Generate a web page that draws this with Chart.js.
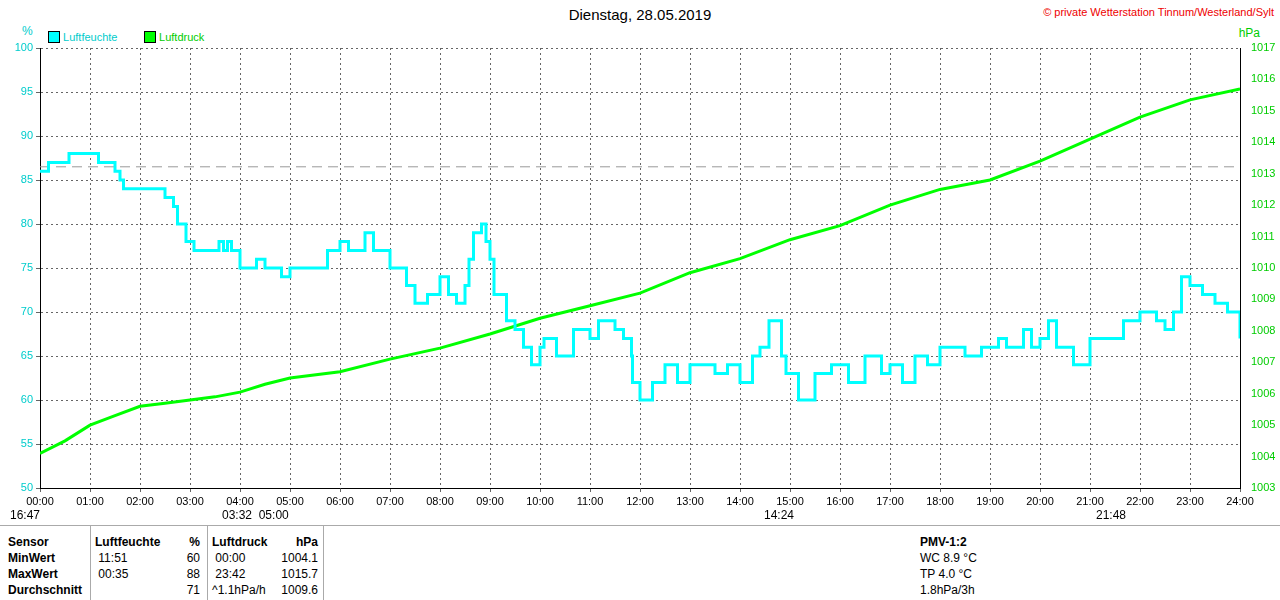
<!DOCTYPE html>
<html><head><meta charset="utf-8">
<script src="https://cdn.jsdelivr.net/npm/chart.js@4"></script>
<style>
body{margin:0;background:#fff;font-family:"Liberation Sans",Arial,sans-serif;font-size:12px;width:1280px;height:600px;overflow:hidden;position:relative}
.a{position:absolute;white-space:nowrap}
b{font-weight:bold}
</style></head><body>
<div class="a" style="left:0;top:0;width:1280px;text-align:center;top:6px;font-size:15px">Dienstag, 28.05.2019</div>
<div class="a" style="right:6px;top:6px;color:#e00;font-size:11px">© private Wetterstation Tinnum/Westerland/Sylt</div>
<div class="a" style="left:22px;top:24px;color:#0cc">%</div>
<div class="a" style="right:20px;top:26px;color:#0c0">hPa</div>
<div class="a" style="left:48px;top:31px;color:#0cc;font-size:11px"><span style="display:inline-block;width:10px;height:10px;background:#0ff;border:1px solid #000;vertical-align:-2px"></span> Luftfeuchte</div>
<div class="a" style="left:144px;top:31px;color:#0c0;font-size:11px"><span style="display:inline-block;width:10px;height:10px;background:#0f0;border:1px solid #000;vertical-align:-2px"></span> Luftdruck</div>
<canvas id="c" style="position:absolute;left:0;top:0"></canvas>
<div class="a" style="left:10px;top:508px">16:47</div>
<div class="a" style="left:222px;top:508px">03:32&nbsp; 05:00</div>
<div class="a" style="left:764px;top:508px">14:24</div>
<div class="a" style="left:1096px;top:508px">21:48</div>
<div class="a" style="left:0;top:525px;width:1280px;border-top:1px solid #aaa"></div>
<div class="a" style="left:90px;top:526px;height:74px;border-left:1px solid #aaa"></div>
<div class="a" style="left:207px;top:526px;height:74px;border-left:1px solid #aaa"></div>
<div class="a" style="left:323px;top:526px;height:74px;border-left:1px solid #aaa"></div>
<div class="a" style="left:8px;top:534px;line-height:16px"><b>Sensor</b><br><b>MinWert</b><br><b>MaxWert</b><br><b>Durchschnitt</b></div>
<div class="a" style="left:95px;top:534px;line-height:16px"><b>Luftfeuchte</b><br>&nbsp;11:51<br>&nbsp;00:35<br></div>
<div class="a" style="left:160px;top:534px;width:40px;text-align:right;line-height:16px"><b>%</b><br>60<br>88<br>71</div>
<div class="a" style="left:212px;top:534px;line-height:16px"><b>Luftdruck</b><br>&nbsp;00:00<br>&nbsp;23:42<br>^1.1hPa/h</div>
<div class="a" style="left:270px;top:534px;width:48px;text-align:right;line-height:16px"><b>hPa</b><br>1004.1<br>1015.7<br>1009.6</div>
<div class="a" style="left:920px;top:534px;line-height:16px"><b>PMV-1:2</b><br>WC 8.9 °C<br>TP 4.0 °C<br>1.8hPa/3h</div>
<script>
const humT = [0,0.17,0.58,1.08,1.17,1.5,1.6,1.67,2.42,2.5,2.67,2.75,2.92,3.08,3.5,3.58,3.67,3.75,3.83,4,4.33,4.5,4.83,5,5.5,5.75,6,6.17,6.5,6.67,7,7.33,7.5,7.75,8,8.17,8.33,8.5,8.58,8.67,8.83,8.92,9,9.08,9.33,9.5,9.67,9.83,10,10.08,10.33,10.67,11,11.17,11.5,11.67,11.83,11.85,12,12.25,12.5,12.75,13,13.5,13.75,14,14.25,14.4,14.58,14.83,14.92,15.17,15.5,15.83,16.17,16.5,16.83,17,17.25,17.5,17.75,18,18.5,18.83,19.17,19.33,19.67,19.83,20,20.17,20.33,20.67,21,21.17,21.67,22,22.33,22.5,22.67,22.83,23,23.25,23.5,23.75,24];
const humV = [86,87,88,88,87,86,85,84,84,83,82,80,78,77,77,78,77,78,77,75,76,75,74,75,75,77,78,77,79,77,75,73,71,72,74,72,71,73,76,79,80,78,76,72,69,68,66,64,66,67,65,68,67,69,68,67,65,62,60,62,64,62,64,63,64,62,65,66,69,65,63,60,63,64,62,65,63,64,62,65,64,66,65,66,67,66,68,66,67,69,66,64,67,67,69,70,69,68,70,74,73,72,71,70,67,70];
const presT = [0,0.5,1,1.5,2,2.5,3,3.5,4,4.5,5,6,7,8,9,10,11,12,13,14,15,16,17,18,19,20,21,22,23,24];
const presV = [1004.1,1004.5,1005.0,1005.3,1005.6,1005.7,1005.8,1005.9,1006.05,1006.3,1006.5,1006.7,1007.1,1007.45,1007.9,1008.4,1008.8,1009.2,1009.85,1010.3,1010.9,1011.35,1012.0,1012.5,1012.8,1013.4,1014.1,1014.8,1015.35,1015.7];
const refLine = 86.5;

const c = document.getElementById('c');
c.width = 1280; c.height = 510;
const grid = {color:'#666', drawTicks:true, tickLength:4};
const font = {family:'"Liberation Sans", Arial, sans-serif', size:11};
new Chart(c, {
  type:'line',
  data:{datasets:[
    {data:humT.map((t,i)=>({x:t,y:humV[i]})), borderColor:'#00ffff', borderWidth:3, stepped:true, pointRadius:0, yAxisID:'y'},
    {data:presT.map((t,i)=>({x:t,y:presV[i]})), borderColor:'#00ff00', borderWidth:3, pointRadius:0, yAxisID:'y2'},
    {data:[{x:0,y:refLine},{x:24,y:refLine}], borderColor:'#999', borderWidth:1, borderDash:[10,6], pointRadius:0, yAxisID:'y'}
  ]},
  options:{
    responsive:false, animation:false,
    layout:{padding:{top:48,left:0,right:0,bottom:0}},
    plugins:{legend:{display:false}, tooltip:{enabled:false}},
    scales:{
      x:{type:'linear', min:0, max:24,
        ticks:{stepSize:1, color:'#000', font:font, maxRotation:0, autoSkip:false,
          callback:v=>String(v).padStart(2,'0')+':00'},
        grid:grid, border:{color:'#000', dash:[2,3]},
        afterFit:s=>{s.height=22;}},
      y:{position:'left', min:50, max:100,
        ticks:{stepSize:5, color:'#0cc', font:font},
        grid:grid, border:{color:'#000', dash:[2,3]},
        afterFit:s=>{s.width=40;}},
      y2:{position:'right', min:1003, max:1017,
        ticks:{stepSize:1, color:'#0c0', font:font, callback:v=>String(v)},
        grid:{display:false}, border:{color:'#000'},
        afterFit:s=>{s.width=40;}}
    }
  }
});
</script>
</body></html>
